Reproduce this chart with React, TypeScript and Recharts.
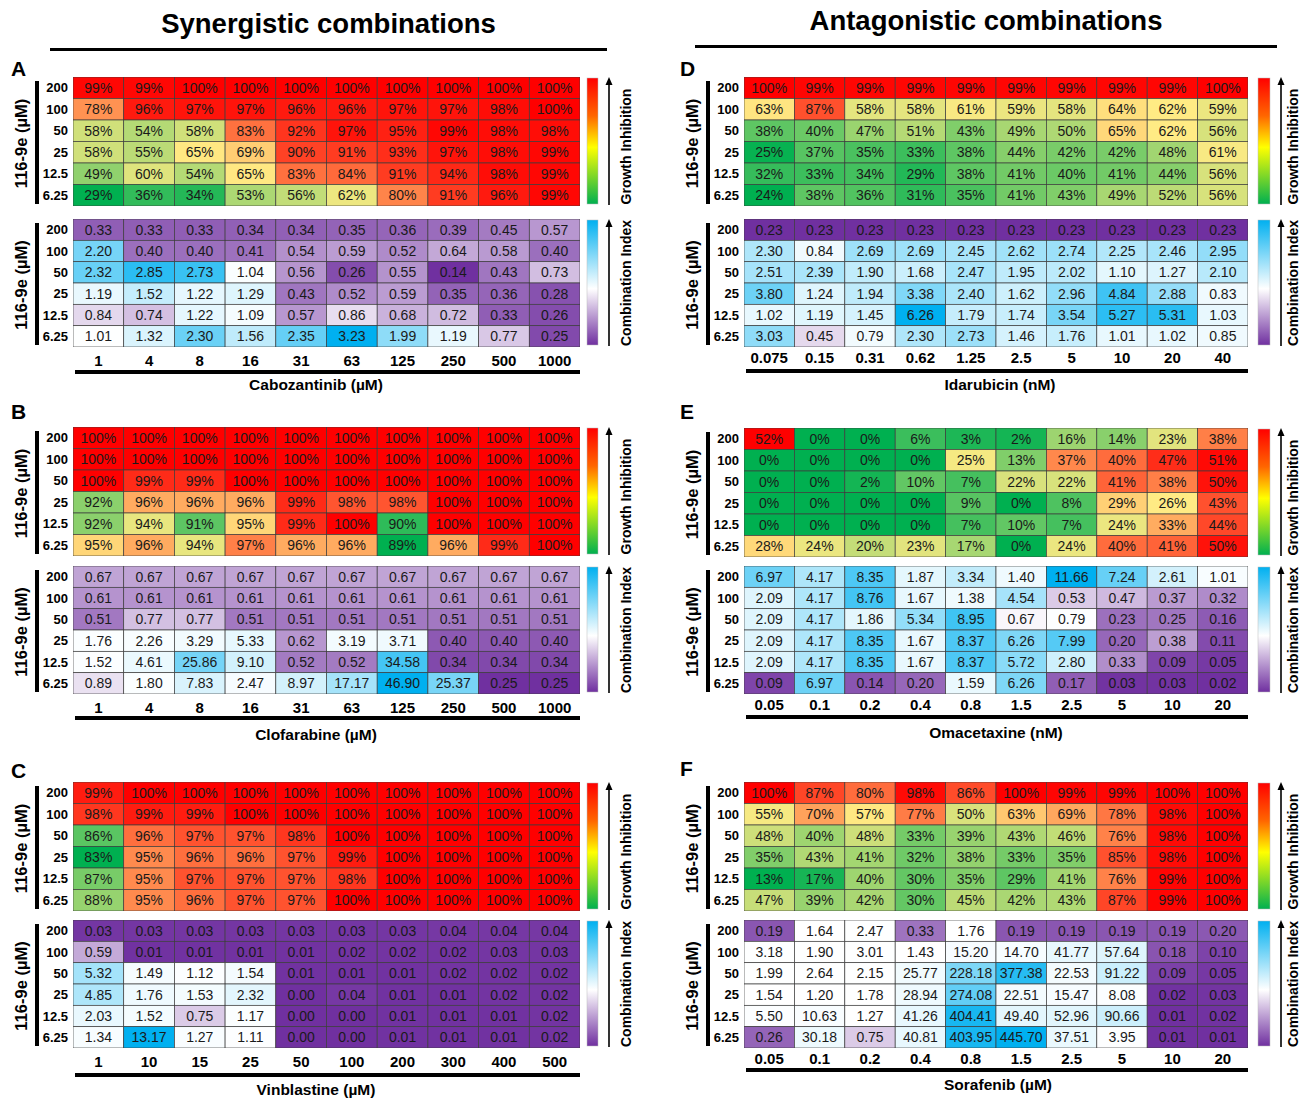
import { ScatterChart, Scatter, XAxis, YAxis } from 'recharts';

const ROWS = ['200', '100', '50', '25', '12.5', '6.25'];

// Synergistic combinations
const cabozantinibDoses = ['1', '4', '8', '16', '31', '63', '125', '250', '500', '1000'];
const cabozantinibGI = [
  [99, 99, 100, 100, 100, 100, 100, 100, 100, 100],
  [78, 96, 97, 97, 96, 96, 97, 97, 98, 100],
  [58, 54, 58, 83, 92, 97, 95, 99, 98, 98],
  [58, 55, 65, 69, 90, 91, 93, 97, 98, 99],
  [49, 60, 54, 65, 83, 84, 91, 94, 98, 99],
  [29, 36, 34, 53, 56, 62, 80, 91, 96, 99],
];
const cabozantinibCI = [
  [0.33, 0.33, 0.33, 0.34, 0.34, 0.35, 0.36, 0.39, 0.45, 0.57],
  [2.2, 0.4, 0.4, 0.41, 0.54, 0.59, 0.52, 0.64, 0.58, 0.4],
  [2.32, 2.85, 2.73, 1.04, 0.56, 0.26, 0.55, 0.14, 0.43, 0.73],
  [1.19, 1.52, 1.22, 1.29, 0.43, 0.52, 0.59, 0.35, 0.36, 0.28],
  [0.84, 0.74, 1.22, 1.09, 0.57, 0.86, 0.68, 0.72, 0.33, 0.26],
  [1.01, 1.32, 2.3, 1.56, 2.35, 3.23, 1.99, 1.19, 0.77, 0.25],
];

const clofarabineDoses = ['1', '4', '8', '16', '31', '63', '125', '250', '500', '1000'];
const clofarabineGI = [
  [100, 100, 100, 100, 100, 100, 100, 100, 100, 100],
  [100, 100, 100, 100, 100, 100, 100, 100, 100, 100],
  [100, 99, 99, 100, 100, 100, 100, 100, 100, 100],
  [92, 96, 96, 96, 99, 98, 98, 100, 100, 100],
  [92, 94, 91, 95, 99, 100, 90, 100, 100, 100],
  [95, 96, 94, 97, 96, 96, 89, 96, 99, 100],
];
const clofarabineCI = [
  [0.67, 0.67, 0.67, 0.67, 0.67, 0.67, 0.67, 0.67, 0.67, 0.67],
  [0.61, 0.61, 0.61, 0.61, 0.61, 0.61, 0.61, 0.61, 0.61, 0.61],
  [0.51, 0.77, 0.77, 0.51, 0.51, 0.51, 0.51, 0.51, 0.51, 0.51],
  [1.76, 2.26, 3.29, 5.33, 0.62, 3.19, 3.71, 0.4, 0.4, 0.4],
  [1.52, 4.61, 25.86, 9.1, 0.52, 0.52, 34.58, 0.34, 0.34, 0.34],
  [0.89, 1.8, 7.83, 2.47, 8.97, 17.17, 46.9, 25.37, 0.25, 0.25],
];

const vinblastineDoses = ['1', '10', '15', '25', '50', '100', '200', '300', '400', '500'];
const vinblastineGI = [
  [99, 100, 100, 100, 100, 100, 100, 100, 100, 100],
  [98, 99, 99, 100, 100, 100, 100, 100, 100, 100],
  [86, 96, 97, 97, 98, 100, 100, 100, 100, 100],
  [83, 95, 96, 96, 97, 99, 100, 100, 100, 100],
  [87, 95, 97, 97, 97, 98, 100, 100, 100, 100],
  [88, 95, 96, 97, 97, 100, 100, 100, 100, 100],
];
const vinblastineCI = [
  [0.03, 0.03, 0.03, 0.03, 0.03, 0.03, 0.03, 0.04, 0.04, 0.04],
  [0.59, 0.01, 0.01, 0.01, 0.01, 0.02, 0.02, 0.02, 0.03, 0.03],
  [5.32, 1.49, 1.12, 1.54, 0.01, 0.01, 0.01, 0.02, 0.02, 0.02],
  [4.85, 1.76, 1.53, 2.32, 0.0, 0.04, 0.01, 0.01, 0.02, 0.02],
  [2.03, 1.52, 0.75, 1.17, 0.0, 0.0, 0.01, 0.01, 0.01, 0.02],
  [1.34, 13.17, 1.27, 1.11, 0.0, 0.0, 0.01, 0.01, 0.01, 0.02],
];

// Antagonistic combinations
const idarubicinDoses = ['0.075', '0.15', '0.31', '0.62', '1.25', '2.5', '5', '10', '20', '40'];
const idarubicinGI = [
  [100, 99, 99, 99, 99, 99, 99, 99, 99, 100],
  [63, 87, 58, 58, 61, 59, 58, 64, 62, 59],
  [38, 40, 47, 51, 43, 49, 50, 65, 62, 56],
  [25, 37, 35, 33, 38, 44, 42, 42, 48, 61],
  [32, 33, 34, 29, 38, 41, 40, 41, 44, 56],
  [24, 38, 36, 31, 35, 41, 43, 49, 52, 56],
];
const idarubicinCI = [
  [0.23, 0.23, 0.23, 0.23, 0.23, 0.23, 0.23, 0.23, 0.23, 0.23],
  [2.3, 0.84, 2.69, 2.69, 2.45, 2.62, 2.74, 2.25, 2.46, 2.95],
  [2.51, 2.39, 1.9, 1.68, 2.47, 1.95, 2.02, 1.1, 1.27, 2.1],
  [3.8, 1.24, 1.94, 3.38, 2.4, 1.62, 2.96, 4.84, 2.88, 0.83],
  [1.02, 1.19, 1.45, 6.26, 1.79, 1.74, 3.54, 5.27, 5.31, 1.03],
  [3.03, 0.45, 0.79, 2.3, 2.73, 1.46, 1.76, 1.01, 1.02, 0.85],
];

const omacetaxineDoses = ['0.05', '0.1', '0.2', '0.4', '0.8', '1.5', '2.5', '5', '10', '20'];
const omacetaxineGI = [
  [52, 0, 0, 6, 3, 2, 16, 14, 23, 38],
  [0, 0, 0, 0, 25, 13, 37, 40, 47, 51],
  [0, 0, 2, 10, 7, 22, 22, 41, 38, 50],
  [0, 0, 0, 0, 9, 0, 8, 29, 26, 43],
  [0, 0, 0, 0, 7, 10, 7, 24, 33, 44],
  [28, 24, 20, 23, 17, 0, 24, 40, 41, 50],
];
const omacetaxineCI = [
  [6.97, 4.17, 8.35, 1.87, 3.34, 1.4, 11.66, 7.24, 2.61, 1.01],
  [2.09, 4.17, 8.76, 1.67, 1.38, 4.54, 0.53, 0.47, 0.37, 0.32],
  [2.09, 4.17, 1.86, 5.34, 8.95, 0.67, 0.79, 0.23, 0.25, 0.16],
  [2.09, 4.17, 8.35, 1.67, 8.37, 6.26, 7.99, 0.2, 0.38, 0.11],
  [2.09, 4.17, 8.35, 1.67, 8.37, 5.72, 2.8, 0.33, 0.09, 0.05],
  [0.09, 6.97, 0.14, 0.2, 1.59, 6.26, 0.17, 0.03, 0.03, 0.02],
];

const sorafenibDoses = ['0.05', '0.1', '0.2', '0.4', '0.8', '1.5', '2.5', '5', '10', '20'];
const sorafenibGI = [
  [100, 87, 80, 98, 86, 100, 99, 99, 100, 100],
  [55, 70, 57, 77, 50, 63, 69, 78, 98, 100],
  [48, 40, 48, 33, 39, 43, 46, 76, 98, 100],
  [35, 43, 41, 32, 38, 33, 35, 85, 98, 100],
  [13, 17, 40, 30, 35, 29, 41, 76, 99, 100],
  [47, 39, 42, 30, 45, 42, 43, 87, 99, 100],
];
const sorafenibCI = [
  [0.19, 1.64, 2.47, 0.33, 1.76, 0.19, 0.19, 0.19, 0.19, 0.2],
  [3.18, 1.9, 3.01, 1.43, 15.2, 14.7, 41.77, 57.64, 0.18, 0.1],
  [1.99, 2.64, 2.15, 25.77, 228.18, 377.38, 22.53, 91.22, 0.09, 0.05],
  [1.54, 1.2, 1.78, 28.94, 274.08, 22.51, 15.47, 8.08, 0.02, 0.03],
  [5.5, 10.63, 1.27, 41.26, 404.41, 49.4, 52.96, 90.66, 0.01, 0.02],
  [0.26, 30.18, 0.75, 40.81, 403.95, 445.7, 37.51, 3.95, 0.01, 0.01],
];

const FONT = '"Liberation Sans", Arial, sans-serif';
const GREEN = '#00b050';
const YELLOW = '#ffeb84';
const RED = '#ff0000';
const PURPLE = '#7030a0';
const WHITE = '#ffffff';
const BLUE = '#00b0f0';

function hexRgb(h: string) {
  return [1, 3, 5].map((i) => parseInt(h.slice(i, i + 2), 16));
}

function mix(a: string, b: string, t: number) {
  const k = Math.max(0, Math.min(1, t));
  const ca = hexRgb(a);
  const cb = hexRgb(b);
  const c = ca.map((v, i) => Math.round(v + (cb[i] - v) * k));
  return `rgb(${c[0]},${c[1]},${c[2]})`;
}

// green -> yellow -> red, midpoint halfway between min and max of the block
function giScale(values: number[][]) {
  const flat = values.flat();
  const lo = Math.min(...flat);
  const hi = Math.max(...flat);
  const mid = (lo + hi) / 2;
  return (v: number) =>
    v < mid ? mix(GREEN, YELLOW, (v - lo) / (mid - lo)) : mix(YELLOW, RED, (v - mid) / (hi - mid));
}

// purple -> white -> blue, white at `mid`
function ciScale(values: number[][], mid: number) {
  const flat = values.flat();
  const lo = Math.min(...flat);
  const hi = Math.max(...flat);
  return (v: number) =>
    v < mid ? mix(WHITE, PURPLE, (mid - v) / (mid - lo)) : mix(WHITE, BLUE, (v - mid) / (hi - mid));
}

const COLS = [0, 1, 2, 3, 4, 5, 6, 7, 8, 9];
const ROW_IDX = [0, 1, 2, 3, 4, 5];

interface HeatmapProps {
  left: number;
  top: number;
  width: number;
  height: number;
  values: number[][];
  color: (v: number) => string;
  fmt: (v: number) => string;
  doses?: string[];
  tickMargin?: number;
}

function Heatmap({ left, top, width, height, values, color, fmt, doses, tickMargin = 9 }: HeatmapProps) {
  const yW = 42;
  const cw = width / 10;
  const ch = height / 6;
  const axisH = doses ? 28 : 0;
  const data = values.flatMap((row, ri) => row.map((v, ci) => ({ x: ci, y: ri, v })));

  const cell = (s: any) => (
    <g>
      <rect
        x={s.cx - cw / 2}
        y={s.cy - ch / 2}
        width={cw}
        height={ch}
        fill={color(s.payload.v)}
        stroke="#3c3c3c"
        strokeWidth={0.7}
      />
      <text x={s.cx} y={s.cy} dy="0.36em" textAnchor="middle" fontSize={14} fill="#1a1a1a" fontFamily={FONT}>
        {fmt(s.payload.v)}
      </text>
    </g>
  );

  return (
    <div style={{ position: 'absolute', left: left - yW, top }}>
      <ScatterChart width={width + yW} height={height + axisH} margin={{ top: 0, right: 0, bottom: 0, left: 0 }}>
        <XAxis
          type="number"
          dataKey="x"
          domain={[-0.5, 9.5]}
          allowDataOverflow
          ticks={COLS}
          interval={0}
          hide={!doses}
          height={axisH}
          axisLine={false}
          tickLine={false}
          tickSize={0}
          tickMargin={tickMargin}
          tickFormatter={(i: number) => (doses ? doses[i] : '')}
          tick={{ fontSize: 15, fontWeight: 700, fill: '#000', fontFamily: FONT }}
        />
        <YAxis
          type="number"
          dataKey="y"
          domain={[-0.5, 5.5]}
          reversed
          allowDataOverflow
          ticks={ROW_IDX}
          interval={0}
          width={yW}
          axisLine={false}
          tickLine={false}
          tickSize={0}
          tickMargin={5}
          tickFormatter={(i: number) => ROWS[i]}
          tick={{ fontSize: 13, fontWeight: 700, fill: '#000', fontFamily: FONT }}
        />
        <Scatter data={data} isAnimationActive={false} shape={cell} />
      </ScatterChart>
    </div>
  );
}

// bar + rotated "116-9e (µM)" on the left, colour bar + arrow + caption on the right
function Decor({ top, height, kind, side }: any) {
  const bx = side === 'L' ? 35 : 706;
  const lx = side === 'L' ? 21 : 692;
  const cbx = side === 'L' ? 587 : 1258;
  const cbw = side === 'L' ? 11 : 12;
  const ax = side === 'L' ? 609 : 1281;
  const tx = side === 'L' ? 626 : 1293;
  const gid = `g-${kind}-${side}-${top}`;
  const cy = top + height / 2;
  const ty = kind === 'gi' ? cy + 5 : cy;
  return (
    <svg style={{ position: 'absolute', left: 0, top: 0 }} width={1302} height={1099} pointerEvents="none">
      <defs>
        <linearGradient id={gid} x1="0" y1="0" x2="0" y2="1">
          {kind === 'gi' ? (
            <>
              <stop offset="0" stopColor="#ff0000" />
              <stop offset="0.3" stopColor="#ff6600" />
              <stop offset="0.55" stopColor="#ffff00" />
              <stop offset="1" stopColor="#00b050" />
            </>
          ) : (
            <>
              <stop offset="0" stopColor="#00b0f0" />
              <stop offset="0.55" stopColor="#ffffff" />
              <stop offset="1" stopColor="#7030a0" />
            </>
          )}
        </linearGradient>
      </defs>
      <rect x={bx} y={top + 4} width={4} height={height - 6} fill="#000" />
      <text
        transform={`translate(${lx},${cy + 2}) rotate(-90)`}
        textAnchor="middle"
        dy="0.35em"
        fontSize={16.5}
        fontWeight={700}
        fontFamily={FONT}
      >
        116-9e (µM)
      </text>
      <rect x={cbx} y={top + 1} width={cbw} height={height - 3} fill={`url(#${gid})`} stroke="#bbb" strokeWidth={0.5} />
      <line x1={ax} y1={top + height - 1} x2={ax} y2={top + 6} stroke="#000" strokeWidth={1.6} />
      <path d={`M${ax - 3.5},${top + 8} L${ax},${top} L${ax + 3.5},${top + 8} Z`} fill="#000" />
      <text
        transform={`translate(${tx},${ty}) rotate(-90)`}
        textAnchor="middle"
        dy="0.35em"
        fontSize={14}
        fontWeight={700}
        fontFamily={FONT}
      >
        {kind === 'gi' ? 'Growth Inhibition' : 'Combination Index'}
      </text>
    </svg>
  );
}

const PANELS = [
  { letter: 'A', side: 'L', gi: cabozantinibGI, ci: cabozantinibCI, doses: cabozantinibDoses, title: 'Cabozantinib (µM)', mid: 1, giTop: 77, ciTop: 219, letterTop: 57, lineTop: 370, titleTop: 376, titleX: 316 },
  { letter: 'B', side: 'L', gi: clofarabineGI, ci: clofarabineCI, doses: clofarabineDoses, title: 'Clofarabine (µM)', mid: 1, giTop: 427, ciTop: 566, letterTop: 400, lineTop: 716, titleTop: 726, titleX: 316 },
  { letter: 'C', side: 'L', gi: vinblastineGI, ci: vinblastineCI, doses: vinblastineDoses, title: 'Vinblastine (µM)', mid: 1, giTop: 782, ciTop: 920, letterTop: 759, lineTop: 1073, titleTop: 1081, titleX: 316 },
  { letter: 'D', side: 'R', gi: idarubicinGI, ci: idarubicinCI, doses: idarubicinDoses, title: 'Idarubicin (nM)', mid: 0.5, giTop: 77, ciTop: 219, letterTop: 57, lineTop: 369, titleTop: 376, titleX: 1000 },
  { letter: 'E', side: 'R', gi: omacetaxineGI, ci: omacetaxineCI, doses: omacetaxineDoses, title: 'Omacetaxine (nM)', mid: 0.7, giTop: 428, ciTop: 566, letterTop: 400, lineTop: 715, titleTop: 724, titleX: 996 },
  { letter: 'F', side: 'R', gi: sorafenibGI, ci: sorafenibCI, doses: sorafenibDoses, title: 'Sorafenib (µM)', mid: 1, giTop: 782, ciTop: 920, letterTop: 757, lineTop: 1068, titleTop: 1076, titleX: 998 },
];

export default function App() {
  return (
    <div
      style={{
        position: 'absolute',
        left: 0,
        top: 0,
        width: 1302,
        height: 1099,
        background: '#fff',
        overflow: 'hidden',
        fontFamily: FONT,
        color: '#000',
      }}
    >
      <div style={{ position: 'absolute', left: 50, top: 8, width: 557, textAlign: 'center', fontSize: 27.5, fontWeight: 700 }}>
        Synergistic combinations
      </div>
      <div style={{ position: 'absolute', left: 50, top: 48, width: 557, height: 3, background: '#000' }} />
      <div style={{ position: 'absolute', left: 695, top: 5, width: 582, textAlign: 'center', fontSize: 27.5, fontWeight: 700 }}>
        Antagonistic combinations
      </div>
      <div style={{ position: 'absolute', left: 695, top: 45, width: 582, height: 3, background: '#000' }} />

      {PANELS.map((p) => {
        const L = p.side === 'L';
        const x = L ? 73 : 744;
        const w = L ? 507 : 504;
        return (
          <div key={p.letter}>
            <div style={{ position: 'absolute', left: L ? 11 : 680, top: p.letterTop, fontSize: 21, fontWeight: 700 }}>{p.letter}</div>
            <Decor top={p.giTop} height={129} kind="gi" side={p.side} />
            <Decor top={p.ciTop} height={128} kind="ci" side={p.side} />
            <Heatmap left={x} top={p.giTop} width={w} height={129} values={p.gi} color={giScale(p.gi)} fmt={(v) => `${v}%`} />
            <Heatmap
              left={x}
              top={p.ciTop}
              width={w}
              height={128}
              values={p.ci}
              color={ciScale(p.ci, p.mid)}
              fmt={(v) => v.toFixed(2)}
              doses={p.doses}
              tickMargin={L ? 8 : 5}
            />
            <div style={{ position: 'absolute', left: x + 2, top: p.lineTop, width: w - 2, height: 4, background: '#000' }} />
            <div
              style={{
                position: 'absolute',
                left: p.titleX - 150,
                top: p.titleTop,
                width: 300,
                textAlign: 'center',
                fontSize: 15.5,
                fontWeight: 700,
              }}
            >
              {p.title}
            </div>
          </div>
        );
      })}
    </div>
  );
}
